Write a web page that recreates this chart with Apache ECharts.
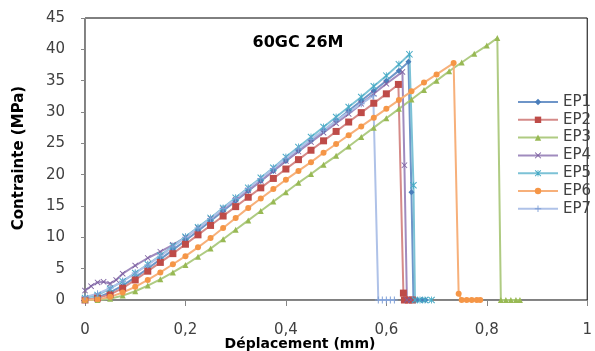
<!DOCTYPE html>
<html><head><meta charset="utf-8">
<script src="https://cdn.jsdelivr.net/npm/echarts@6/dist/echarts.min.js"></script>
<style>html,body{margin:0;padding:0;background:#fff}#c{width:595px;height:351px}</style>
</head><body><div id="c"></div>
<script>
// ---- data ----
const seriesNames = ['EP1','EP2','EP3','EP4','EP5','EP6','EP7'];
const xTicks = [0, 0.2, 0.4, 0.6, 0.8, 1];
const yTicks = [0, 5, 10, 15, 20, 25, 30, 35, 40, 45];

const ep1X = [0,0.025,0.05,0.075,0.1,0.125,0.15,0.175,0.2,0.225,0.25,0.275,0.3,0.325,0.35,0.375,0.4,0.425,0.45,0.475,0.5,0.525,0.55,0.575,0.6,0.625,0.644,0.65,0.654,0.662,0.67,0.678];
const ep1Y = [0,0.4,1.2,2.3,3.6,5.0,6.5,8.0,9.5,11.0,12.6,14.2,15.8,17.4,19.0,20.6,22.2,23.8,25.4,27.0,28.6,30.2,31.8,33.4,35.0,36.6,38.0,17.2,0,0,0,0];

const ep2X = [0,0.025,0.05,0.075,0.1,0.125,0.15,0.175,0.2,0.225,0.25,0.275,0.3,0.325,0.35,0.375,0.4,0.425,0.45,0.475,0.5,0.525,0.55,0.575,0.6,0.624,0.634,0.636,0.644,0.652];
const ep2Y = [0,0.3,0.9,1.9,3.2,4.6,6.0,7.4,8.9,10.4,11.9,13.4,14.9,16.4,17.9,19.4,20.9,22.4,23.9,25.4,26.9,28.4,29.9,31.4,32.9,34.4,1.1,0,0,0];

const ep3X = [0,0.025,0.05,0.075,0.1,0.125,0.15,0.175,0.2,0.225,0.25,0.275,0.3,0.325,0.35,0.375,0.4,0.425,0.45,0.475,0.5,0.525,0.55,0.575,0.6,0.625,0.65,0.675,0.7,0.725,0.75,0.775,0.8,0.821,0.828,0.838,0.848,0.858,0.866];
const ep3Y = [0,0,0.2,0.7,1.4,2.3,3.3,4.4,5.6,6.9,8.2,9.7,11.2,12.7,14.2,15.7,17.2,18.7,20.1,21.6,23.0,24.5,26.0,27.5,29.0,30.5,32.0,33.5,35.0,36.5,37.9,39.3,40.6,41.8,0,0,0,0,0];

const ep4X = [0,0.012,0.025,0.037,0.05,0.062,0.075,0.1,0.125,0.15,0.175,0.2,0.225,0.25,0.275,0.3,0.325,0.35,0.375,0.4,0.425,0.45,0.475,0.5,0.525,0.55,0.575,0.6,0.632,0.636,0.641,0.649,0.657];
const ep4Y = [1.5,2.2,2.8,2.9,2.6,3.2,4.2,5.5,6.7,7.7,8.8,10.0,11.5,13.0,14.5,16.0,17.5,19.0,20.6,22.2,23.7,25.2,26.7,28.2,29.7,31.3,32.9,34.5,36.4,21.5,0,0,0];

const ep5X = [0,0.025,0.05,0.075,0.1,0.125,0.15,0.175,0.2,0.225,0.25,0.275,0.3,0.325,0.35,0.375,0.4,0.425,0.45,0.475,0.5,0.525,0.55,0.575,0.6,0.625,0.646,0.654,0.657,0.667,0.677,0.69];
const ep5Y = [0.3,0.8,1.8,3.0,4.3,5.7,7.1,8.6,10.1,11.6,13.1,14.7,16.3,17.9,19.5,21.1,22.8,24.4,26.0,27.6,29.2,30.8,32.4,34.1,35.8,37.6,39.2,18.3,0,0,0,0];

const ep6X = [0,0.025,0.05,0.075,0.1,0.125,0.15,0.175,0.2,0.225,0.25,0.275,0.3,0.325,0.35,0.375,0.4,0.425,0.45,0.475,0.5,0.525,0.55,0.575,0.6,0.625,0.65,0.675,0.7,0.734,0.744,0.75,0.76,0.77,0.78,0.787];
const ep6Y = [0,0.1,0.5,1.2,2.1,3.2,4.4,5.7,7.0,8.4,9.9,11.5,13.1,14.7,16.2,17.7,19.2,20.6,22.0,23.5,24.9,26.3,27.7,29.1,30.5,31.9,33.3,34.7,36.0,37.8,1.0,0,0,0,0,0];

const ep7X = [0,0.025,0.05,0.075,0.1,0.125,0.15,0.175,0.2,0.225,0.25,0.275,0.3,0.325,0.35,0.375,0.4,0.425,0.45,0.475,0.5,0.525,0.55,0.574,0.584,0.592,0.6,0.608,0.616];
const ep7Y = [0.5,1.0,1.9,3.0,4.3,5.6,7.0,8.5,10.0,11.5,13.0,14.6,16.2,17.8,19.4,21.0,22.6,24.1,25.6,27.1,28.6,30.0,31.3,32.6,0,0,0,0,0];

// ---- styling ----
const markerColors = ['#4A7EBB','#BE4B48','#98B954','#7D60A0','#46AAC5','#F59647','#7F9FD6'];
const lineColors   = ['#6E95C8','#D58A88','#AFCB82','#A08BBE','#7CC2D6','#F7B07A','#AFC2E8'];
const P_X = 'path://M1,0L5,4L9,0L10,1L6,5L10,9L9,10L5,6L1,10L0,9L4,5L0,1Z';
const P_PLUS = 'path://M4.3,0H5.7V4.3H10V5.7H5.7V10H4.3V5.7H0V4.3H4.3Z';
const P_STAR = 'path://M1,0L5,4L9,0L10,1L6,5L10,9L9,10L5,6L1,10L0,9L4,5L0,1Z M4.4,0L5.6,0L5.6,10L4.4,10Z';
const symbols = ['diamond','rect','triangle',P_X,P_STAR,'circle',P_PLUS];
const symSizes = [6,7,6,6,7,6,7];

const xs = [ep1X,ep2X,ep3X,ep4X,ep5X,ep6X,ep7X];
const ys = [ep1Y,ep2Y,ep3Y,ep4Y,ep5Y,ep6Y,ep7Y];

const FONT = 'DejaVu Sans';
const series = seriesNames.map((name, i) => ({
  name,
  type: 'line',
  data: xs[i].map((x, k) => [x, ys[i][k]]),
  symbol: symbols[i],
  symbolSize: symSizes[i],
  showAllSymbol: true,
  lineStyle: { color: lineColors[i], width: 2 },
  itemStyle: { color: markerColors[i] },
  animation: false
}));

const chart = echarts.init(document.getElementById('c'), null, { renderer: 'canvas' });
chart.setOption({
  backgroundColor: '#fff',
  animation: false,
  grid: { left: 85, right: 2, top: 18, bottom: 51, show: true, borderColor: '#000', borderWidth: 1, backgroundColor: 'transparent' },
  xAxis: {
    type: 'value', min: xTicks[0], max: xTicks[xTicks.length - 1], interval: 0.2,
    splitLine: { show: false },
    axisLine: { lineStyle: { color: '#868686', width: 1 } },
    axisTick: { length: 6, lineStyle: { color: '#868686' } },
    axisLabel: { margin: 23, color: '#404040', fontFamily: FONT, fontSize: 15,
      formatter: v => String(+v.toFixed(1)).replace('.', ',') }
  },
  yAxis: {
    type: 'value', min: yTicks[0], max: yTicks[yTicks.length - 1], interval: 5,
    splitLine: { show: false },
    axisLine: { show: true, lineStyle: { color: '#868686', width: 1 } },
    axisTick: { show: true, length: 4, lineStyle: { color: '#868686' } },
    axisLabel: { margin: 20, color: '#404040', fontFamily: FONT, fontSize: 15 }
  },
  legend: {
    orient: 'vertical', left: 512, top: 89,
    padding: 5,
    itemWidth: 40, itemHeight: 8, itemGap: 1.8,
    textStyle: { color: '#404040', fontFamily: FONT, fontSize: 15, lineHeight: 16 },
    data: seriesNames
  },
  graphic: [
    { type: 'text', style: { text: '60GC 26M', x: 298, y: 43, align: 'center', verticalAlign: 'middle', fontFamily: FONT, fontSize: 16, fontWeight: 'bold', fill: '#000' } },
    { type: 'text', style: { text: 'Déplacement (mm)', x: 300, y: 344, align: 'center', verticalAlign: 'middle', fontFamily: FONT, fontSize: 14, fontWeight: 'bold', fill: '#000' } },
    { type: 'text', x: 19, y: 158, rotation: Math.PI / 2, style: { text: 'Contrainte (MPa)', x: 0, y: 0, align: 'center', verticalAlign: 'middle', fontFamily: FONT, fontSize: 15, fontWeight: 'bold', fill: '#000' } }
  ],
  series
});
</script>
</body></html>
